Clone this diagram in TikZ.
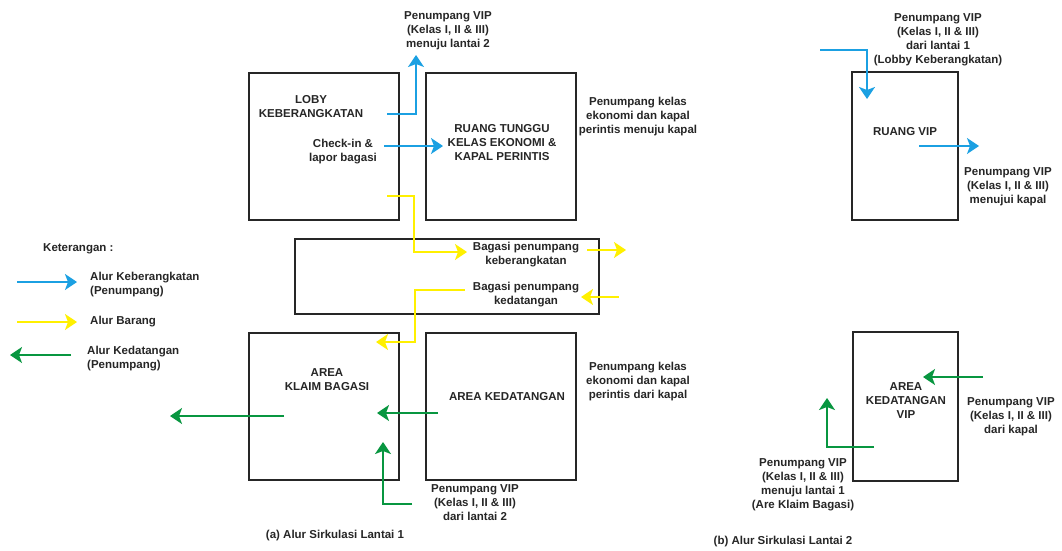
\documentclass[tikz,border=0pt]{standalone}
\usepackage{fontspec}
\setmainfont{Liberation Sans}
\usetikzlibrary{arrows.meta}
\definecolor{cblue}{RGB}{27,160,226}
\definecolor{cyel}{RGB}{255,240,0}
\definecolor{cgreen}{RGB}{8,150,64}
\tikzset{
  room/.style={draw=black!85,line width=2pt},
  lbl/.style={font=\bfseries\fontsize{11.5}{14}\selectfont,align=center,inner sep=0pt,text=black!85},
  lblL/.style={lbl,align=left,anchor=west},
  flow/.style={line width=2pt,-{Stealth[length=12pt,width=16pt,inset=3pt]}},
  dep/.style={flow,draw=cblue},
  goods/.style={flow,draw=cyel},
  arr/.style={flow,draw=cgreen},
}
\begin{document}
\begin{tikzpicture}[x=1pt,y=-1pt]
\useasboundingbox (0,0) rectangle (1062,551);
% rooms
\draw[room] (249,73) rectangle (399,220);
\draw[room] (426,73) rectangle (576,220);
\draw[room] (295,239) rectangle (599,314);
\draw[room] (249,333) rectangle (399,480);
\draw[room] (426,333) rectangle (576,480);
\draw[room] (852,72) rectangle (958,220);
\draw[room] (853,332) rectangle (958,481);
% texts floor 1
\node[lbl] (vipup) at (448,30.5) {Penumpang VIP\\(Kelas I, II \& III)\\menuju lantai 2};
\node[lbl] (loby) at (311,106.5) {LOBY\\KEBERANGKATAN};
\node[lbl] (checkin) at (343,151.5) {Check-in \&\\lapor bagasi};
\node[lbl] (tunggu) at (502,143) {RUANG TUNGGU\\KELAS EKONOMI \&\\KAPAL PERINTIS};
\node[lbl] (ekout) at (638,117) {Penumpang kelas\\ekonomi dan kapal\\perintis menuju kapal};
\node[lbl] (bgdep) at (526,255) {Bagasi penumpang\\keberangkatan};
\node[lbl] (bgarr) at (526,294.5) {Bagasi penumpang\\kedatangan};
\node[lbl] (klaim) at (327,380) {AREA\\KLAIM BAGASI};
\node[lbl] (kedat) at (507,397) {AREA KEDATANGAN};
\node[lbl] (ekin) at (638,382) {Penumpang kelas\\ekonomi dan kapal\\perintis dari kapal};
\node[lbl] (vipdown) at (475,503) {Penumpang VIP\\(Kelas I, II \& III)\\dari lantai 2};
\node[lbl] (capa) at (335,536) {(a) Alur Sirkulasi Lantai 1};
% legend
\node[lblL] (ket) at (43,249) {Keterangan :};
\node[lblL] (lgdep) at (90,285) {Alur Keberangkatan\\(Penumpang)};
\node[lblL] (lggoods) at (90,322) {Alur Barang};
\node[lblL] (lgarr) at (87,359) {Alur Kedatangan\\(Penumpang)};
% texts floor 2
\node[lbl] (vipin) at (938,40) {Penumpang VIP\\(Kelas I, II \& III)\\dari lantai 1\\(Lobby Keberangkatan)};
\node[lbl] (ruangvip) at (905,132) {RUANG VIP};
\node[lbl] (vipout) at (1008,187) {Penumpang VIP\\(Kelas I, II \& III)\\menujui kapal};
\node[lbl] (kedvip) at (906,401) {AREA\\KEDATANGAN\\VIP};
\node[lbl] (vipship) at (1011,417) {Penumpang VIP\\(Kelas I, II \& III)\\dari kapal};
\node[lbl] (viptoone) at (803,484.5) {Penumpang VIP\\(Kelas I, II \& III)\\menuju lantai 1\\(Are Klaim Bagasi)};
\node[lbl] (capb) at (783,542) {(b) Alur Sirkulasi Lantai 2};
% coordinates
\coordinate (b1s) at (387,114); \coordinate (b1k) at (416,114); \coordinate (b1e) at (416,55);
\coordinate (b2s) at (384,146); \coordinate (b2e) at (443,146);
\coordinate (b3s) at (820,50); \coordinate (b3k) at (867,50); \coordinate (b3e) at (867,99);
\coordinate (b4s) at (919,146); \coordinate (b4e) at (979,146);
\coordinate (lb1) at (17,282); \coordinate (lb2) at (77,282);
\coordinate (y1s) at (387,196); \coordinate (y1k) at (414,196); \coordinate (y1m) at (414,252); \coordinate (y1e) at (467,252);
\coordinate (y2s) at (587,250); \coordinate (y2e) at (626,250);
\coordinate (y3s) at (619,297); \coordinate (y3e) at (581,297);
\coordinate (y4s) at (465,290); \coordinate (y4k) at (415,290); \coordinate (y4m) at (415,342); \coordinate (y4e) at (376,342);
\coordinate (ly1) at (17,322); \coordinate (ly2) at (77,322);
\coordinate (g1s) at (438,413); \coordinate (g1e) at (377,413);
\coordinate (g2s) at (284,416); \coordinate (g2e) at (170,416);
\coordinate (g3s) at (412,504); \coordinate (g3k) at (383,504); \coordinate (g3e) at (383,442);
\coordinate (g4s) at (983,377); \coordinate (g4e) at (923,377);
\coordinate (g5s) at (874,447); \coordinate (g5k) at (827,447); \coordinate (g5e) at (827,398);
\coordinate (lg1) at (71,355); \coordinate (lg2) at (10,355);
% flows
\draw[dep] (b1s) -- (b1k) -- (b1e);
\draw[dep] (b2s) -- (b2e);
\draw[dep] (b3s) -- (b3k) -- (b3e);
\draw[dep] (b4s) -- (b4e);
\draw[dep] (lb1) -- (lb2);
\draw[goods] (y1s) -- (y1k) -- (y1m) -- (y1e);
\draw[goods] (y2s) -- (y2e);
\draw[goods] (y3s) -- (y3e);
\draw[goods] (y4s) -- (y4k) -- (y4m) -- (y4e);
\draw[goods] (ly1) -- (ly2);
\draw[arr] (g1s) -- (g1e);
\draw[arr] (g2s) -- (g2e);
\draw[arr] (g3s) -- (g3k) -- (g3e);
\draw[arr] (g4s) -- (g4e);
\draw[arr] (g5s) -- (g5k) -- (g5e);
\draw[arr] (lg1) -- (lg2);
\end{tikzpicture}
\end{document}
